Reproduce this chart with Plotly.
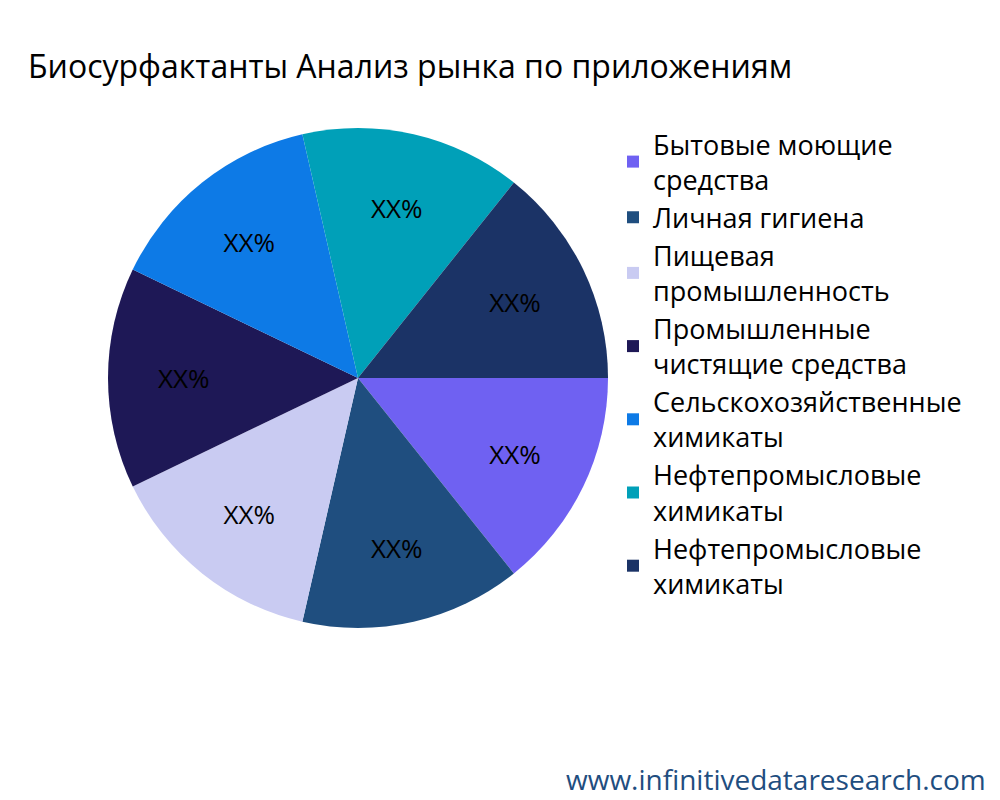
import plotly.graph_objects as go

labels = [
    "Бытовые моющие<br>средства",
    "Личная гигиена",
    "Пищевая<br>промышленность",
    "Промышленные<br>чистящие средства",
    "Сельскохозяйственные<br>химикаты",
    "Нефтепромысловые<br>химикаты",
    "Нефтепромысловые<br>химикаты ",
]
values = [1, 1, 1, 1, 1, 1, 1]
colors = ["#6F61F2", "#1F4E7F", "#C9CBF2", "#1E1856", "#0D7AE6", "#00A0B8", "#1B3366"]

fig = go.Figure(go.Pie(
    labels=labels, values=values, sort=False, direction="clockwise", rotation=90,
    marker=dict(colors=colors), texttemplate="XX%", textposition="inside",
    insidetextfont=dict(color="black", size=26), hoverinfo="label",
    domain=dict(x=[0.1, 0.6], y=[0.225, 0.85]),
))
fig.update_layout(
    width=1000, height=800,
    font=dict(family="Open Sans", size=27, color="black"),
    title=dict(text="Биосурфактанты Анализ рынка по приложениям", x=0.02, y=0.94,
               font=dict(size=32)),
    legend=dict(x=0.605, y=0.86, yanchor="top", itemsizing="constant",
                font=dict(size=27)),
    margin=dict(l=0, r=0, t=0, b=0),
    paper_bgcolor="white",
    annotations=[dict(text="www.infinitivedataresearch.com", x=0.98, y=0.01, xref="paper",
                      yref="paper", xanchor="right", yanchor="bottom", showarrow=False,
                      font=dict(size=28, color="#1F4E7F"))],
)
fig.write_html("out.html")
